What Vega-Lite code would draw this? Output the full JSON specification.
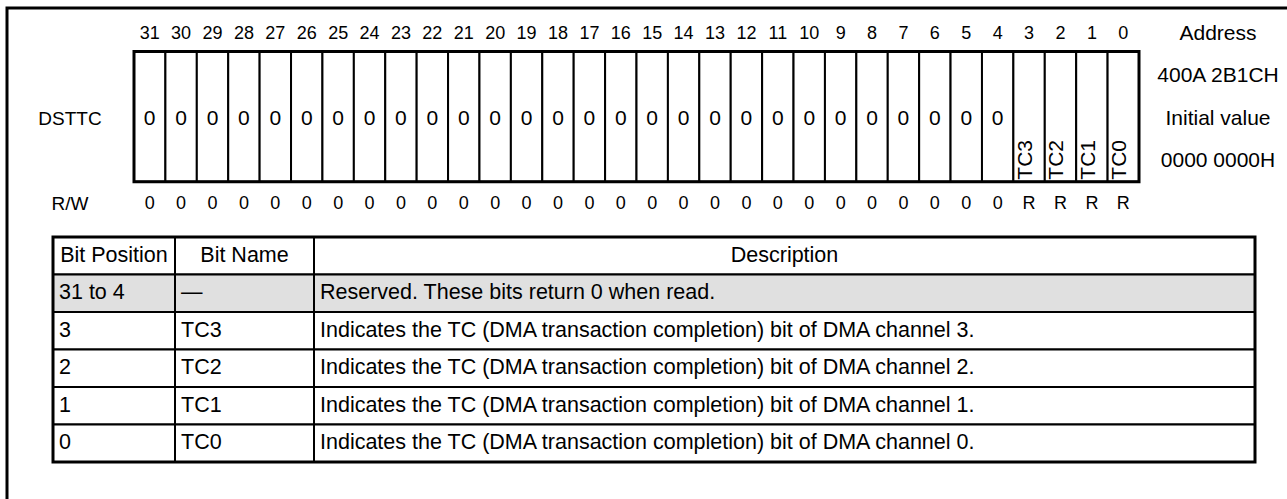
{
  "$schema": "https://vega.github.io/schema/vega-lite/v6.json",
  "width": 1300,
  "height": 510,
  "autosize": {"type": "none"},
  "padding": {"left": 7, "top": 8, "right": -20, "bottom": -19},
  "background": "white",
  "config": {
    "view": {"stroke": "black", "strokeWidth": 3, "fill": "white"},
    "axis": {"disable": true},
    "legend": {"disable": true},
    "text": {"font": "Liberation Sans", "fontSize": 21, "color": "black"}
  },
  "datasets": {
    "bits": [
      {"register": "DSTTC", "bit": 31, "value": "0", "name": "", "access": "0"},
      {"register": "DSTTC", "bit": 30, "value": "0", "name": "", "access": "0"},
      {"register": "DSTTC", "bit": 29, "value": "0", "name": "", "access": "0"},
      {"register": "DSTTC", "bit": 28, "value": "0", "name": "", "access": "0"},
      {"register": "DSTTC", "bit": 27, "value": "0", "name": "", "access": "0"},
      {"register": "DSTTC", "bit": 26, "value": "0", "name": "", "access": "0"},
      {"register": "DSTTC", "bit": 25, "value": "0", "name": "", "access": "0"},
      {"register": "DSTTC", "bit": 24, "value": "0", "name": "", "access": "0"},
      {"register": "DSTTC", "bit": 23, "value": "0", "name": "", "access": "0"},
      {"register": "DSTTC", "bit": 22, "value": "0", "name": "", "access": "0"},
      {"register": "DSTTC", "bit": 21, "value": "0", "name": "", "access": "0"},
      {"register": "DSTTC", "bit": 20, "value": "0", "name": "", "access": "0"},
      {"register": "DSTTC", "bit": 19, "value": "0", "name": "", "access": "0"},
      {"register": "DSTTC", "bit": 18, "value": "0", "name": "", "access": "0"},
      {"register": "DSTTC", "bit": 17, "value": "0", "name": "", "access": "0"},
      {"register": "DSTTC", "bit": 16, "value": "0", "name": "", "access": "0"},
      {"register": "DSTTC", "bit": 15, "value": "0", "name": "", "access": "0"},
      {"register": "DSTTC", "bit": 14, "value": "0", "name": "", "access": "0"},
      {"register": "DSTTC", "bit": 13, "value": "0", "name": "", "access": "0"},
      {"register": "DSTTC", "bit": 12, "value": "0", "name": "", "access": "0"},
      {"register": "DSTTC", "bit": 11, "value": "0", "name": "", "access": "0"},
      {"register": "DSTTC", "bit": 10, "value": "0", "name": "", "access": "0"},
      {"register": "DSTTC", "bit": 9, "value": "0", "name": "", "access": "0"},
      {"register": "DSTTC", "bit": 8, "value": "0", "name": "", "access": "0"},
      {"register": "DSTTC", "bit": 7, "value": "0", "name": "", "access": "0"},
      {"register": "DSTTC", "bit": 6, "value": "0", "name": "", "access": "0"},
      {"register": "DSTTC", "bit": 5, "value": "0", "name": "", "access": "0"},
      {"register": "DSTTC", "bit": 4, "value": "0", "name": "", "access": "0"},
      {"register": "DSTTC", "bit": 3, "value": "", "name": "TC3", "access": "R"},
      {"register": "DSTTC", "bit": 2, "value": "", "name": "TC2", "access": "R"},
      {"register": "DSTTC", "bit": 1, "value": "", "name": "TC1", "access": "R"},
      {"register": "DSTTC", "bit": 0, "value": "", "name": "TC0", "access": "R"}
    ],
    "registers": [
      {"register": "DSTTC", "address": "400A 2B1CH", "initial": "0000 0000H"}
    ],
    "leftLabels": [
      {"side": "left", "row": "register", "text": "DSTTC"},
      {"side": "left", "row": "access", "text": "R/W"}
    ],
    "rightLabels": [
      {"side": "right", "row": "bit numbers", "text": "Address"},
      {"side": "right", "row": "address", "text": "400A 2B1CH"},
      {"side": "right", "row": "register", "text": "Initial value"},
      {"side": "right", "row": "initial value", "text": "0000 0000H"}
    ],
    "table": [
      {"position": "Bit Position", "name": "Bit Name", "description": "Description", "header": true, "reserved": false},
      {"position": "31 to 4", "name": "—", "description": "Reserved. These bits return 0 when read.", "header": false, "reserved": true},
      {"position": "3", "name": "TC3", "description": "Indicates the TC (DMA transaction completion) bit of DMA channel 3.", "header": false, "reserved": false},
      {"position": "2", "name": "TC2", "description": "Indicates the TC (DMA transaction completion) bit of DMA channel 2.", "header": false, "reserved": false},
      {"position": "1", "name": "TC1", "description": "Indicates the TC (DMA transaction completion) bit of DMA channel 1.", "header": false, "reserved": false},
      {"position": "0", "name": "TC0", "description": "Indicates the TC (DMA transaction completion) bit of DMA channel 0.", "header": false, "reserved": false}
    ]
  },
  "resolve": {"scale": {"x": "independent", "y": "independent"}},
  "layer": [
    {
      "data": {"name": "bits"},
      "mark": {"type": "rect", "fill": "white", "stroke": "black", "strokeWidth": 2},
      "encoding": {
        "x": {"field": "bit", "type": "ordinal", "scale": {"type": "band", "domain": [31,30,29,28,27,26,25,24,23,22,21,20,19,18,17,16,15,14,13,12,11,10,9,8,7,6,5,4,3,2,1,0], "range": [127, 1132], "paddingInner": 0, "paddingOuter": 0}},
        "y": {"field": "register", "type": "nominal", "scale": {"type": "band", "domain": ["DSTTC"], "range": [43.5, 173.7], "paddingInner": 0, "paddingOuter": 0}}
      }
    },
    {
      "data": {"name": "registers"},
      "mark": {"type": "rect", "fill": null, "fillOpacity": 0, "stroke": "black", "strokeWidth": 3},
      "encoding": {
        "x": {"field": "register", "type": "nominal", "scale": {"type": "band", "domain": ["DSTTC"], "range": [127, 1132], "paddingInner": 0, "paddingOuter": 0}},
        "y": {"field": "register", "type": "nominal", "scale": {"type": "band", "domain": ["DSTTC"], "range": [43.5, 173.7], "paddingInner": 0, "paddingOuter": 0}}
      }
    },
    {
      "data": {"name": "bits"},
      "mark": {"type": "text", "fontSize": 21, "align": "center", "baseline": "middle"},
      "encoding": {
        "x": {"field": "bit", "type": "ordinal", "scale": {"type": "band", "domain": [31,30,29,28,27,26,25,24,23,22,21,20,19,18,17,16,15,14,13,12,11,10,9,8,7,6,5,4,3,2,1,0], "range": [127, 1132], "paddingInner": 0, "paddingOuter": 0}},
        "y": {"datum": "register", "type": "nominal", "scale": {"type": "point", "domain": ["bit numbers", "address", "register", "initial value", "access"], "range": [25.5, 196], "padding": 0}},
        "text": {"field": "value"}
      }
    },
    {
      "data": {"name": "bits"},
      "mark": {"type": "text", "fontSize": 21, "angle": 270, "align": "left", "baseline": "middle", "dx": 2, "dy": -3},
      "encoding": {
        "x": {"field": "bit", "type": "ordinal", "scale": {"type": "band", "domain": [31,30,29,28,27,26,25,24,23,22,21,20,19,18,17,16,15,14,13,12,11,10,9,8,7,6,5,4,3,2,1,0], "range": [127, 1132], "paddingInner": 0, "paddingOuter": 0}},
        "y": {"field": "register", "type": "nominal", "bandPosition": 1, "scale": {"type": "band", "domain": ["DSTTC"], "range": [43.5, 173.7], "paddingInner": 0, "paddingOuter": 0}},
        "text": {"field": "name"}
      }
    },
    {
      "data": {"name": "bits"},
      "mark": {"type": "text", "fontSize": 18, "align": "center", "baseline": "middle"},
      "encoding": {
        "x": {"field": "bit", "type": "ordinal", "scale": {"type": "band", "domain": [31,30,29,28,27,26,25,24,23,22,21,20,19,18,17,16,15,14,13,12,11,10,9,8,7,6,5,4,3,2,1,0], "range": [127, 1132], "paddingInner": 0, "paddingOuter": 0}},
        "y": {"datum": "bit numbers", "type": "nominal", "scale": {"type": "point", "domain": ["bit numbers", "address", "register", "initial value", "access"], "range": [25.5, 196], "padding": 0}},
        "text": {"field": "bit"}
      }
    },
    {
      "data": {"name": "bits"},
      "mark": {"type": "text", "fontSize": 18, "align": "center", "baseline": "middle"},
      "encoding": {
        "x": {"field": "bit", "type": "ordinal", "scale": {"type": "band", "domain": [31,30,29,28,27,26,25,24,23,22,21,20,19,18,17,16,15,14,13,12,11,10,9,8,7,6,5,4,3,2,1,0], "range": [127, 1132], "paddingInner": 0, "paddingOuter": 0}},
        "y": {"datum": "access", "type": "nominal", "scale": {"type": "point", "domain": ["bit numbers", "address", "register", "initial value", "access"], "range": [25.5, 196], "padding": 0}},
        "text": {"field": "access"}
      }
    },
    {
      "data": {"name": "leftLabels"},
      "mark": {"type": "text", "fontSize": 19, "align": "center", "baseline": "middle"},
      "encoding": {
        "x": {"field": "side", "type": "nominal", "scale": {"type": "point", "domain": ["left", "right"], "range": [63, 1211], "padding": 0}},
        "y": {"field": "row", "type": "nominal", "scale": {"type": "point", "domain": ["bit numbers", "address", "register", "initial value", "access"], "range": [25.5, 196], "padding": 0}},
        "text": {"field": "text"}
      }
    },
    {
      "data": {"name": "rightLabels"},
      "mark": {"type": "text", "fontSize": 21, "align": "center", "baseline": "middle"},
      "encoding": {
        "x": {"field": "side", "type": "nominal", "scale": {"type": "point", "domain": ["left", "right"], "range": [63, 1211], "padding": 0}},
        "y": {"field": "row", "type": "nominal", "scale": {"type": "point", "domain": ["bit numbers", "address", "register", "initial value", "access"], "range": [25.5, 196], "padding": 0}},
        "text": {"field": "text"}
      }
    },
    {
      "data": {"name": "table"},
      "mark": {"type": "rect", "stroke": "black", "strokeWidth": 2},
      "encoding": {
        "x": {"datum": "Bit Position", "type": "nominal", "scale": {"type": "band", "domain": ["Bit Position"], "range": [46, 168], "paddingInner": 0, "paddingOuter": 0}},
        "y": {"field": "position", "type": "nominal", "scale": {"type": "band", "domain": ["Bit Position", "31 to 4", "3", "2", "1", "0"], "range": [229, 454], "paddingInner": 0, "paddingOuter": 0}},
        "fill": {"condition": {"test": "datum.reserved", "value": "#e0e0e0"}, "value": "white"}
      }
    },
    {
      "data": {"name": "table"},
      "mark": {"type": "rect", "stroke": "black", "strokeWidth": 2},
      "encoding": {
        "x": {"datum": "Bit Name", "type": "nominal", "scale": {"type": "band", "domain": ["Bit Name"], "range": [168, 307], "paddingInner": 0, "paddingOuter": 0}},
        "y": {"field": "position", "type": "nominal", "scale": {"type": "band", "domain": ["Bit Position", "31 to 4", "3", "2", "1", "0"], "range": [229, 454], "paddingInner": 0, "paddingOuter": 0}},
        "fill": {"condition": {"test": "datum.reserved", "value": "#e0e0e0"}, "value": "white"}
      }
    },
    {
      "data": {"name": "table"},
      "mark": {"type": "rect", "stroke": "black", "strokeWidth": 2},
      "encoding": {
        "x": {"datum": "Description", "type": "nominal", "scale": {"type": "band", "domain": ["Description"], "range": [307, 1248], "paddingInner": 0, "paddingOuter": 0}},
        "y": {"field": "position", "type": "nominal", "scale": {"type": "band", "domain": ["Bit Position", "31 to 4", "3", "2", "1", "0"], "range": [229, 454], "paddingInner": 0, "paddingOuter": 0}},
        "fill": {"condition": {"test": "datum.reserved", "value": "#e0e0e0"}, "value": "white"}
      }
    },
    {
      "data": {"name": "registers"},
      "mark": {"type": "rect", "fill": null, "fillOpacity": 0, "stroke": "black", "strokeWidth": 3},
      "encoding": {
        "x": {"datum": "table", "type": "nominal", "scale": {"type": "band", "domain": ["table"], "range": [46, 1248], "paddingInner": 0, "paddingOuter": 0}},
        "y": {"datum": "table", "type": "nominal", "scale": {"type": "band", "domain": ["table"], "range": [229, 454], "paddingInner": 0, "paddingOuter": 0}}
      }
    },
    {
      "data": {"name": "table"},
      "transform": [{"filter": "datum.header"}],
      "mark": {"type": "text", "fontSize": 21.5, "align": "center", "baseline": "middle"},
      "encoding": {
        "x": {"datum": "Bit Position", "type": "nominal", "scale": {"type": "band", "domain": ["Bit Position"], "range": [46, 168], "paddingInner": 0, "paddingOuter": 0}},
        "y": {"field": "position", "type": "nominal", "scale": {"type": "band", "domain": ["Bit Position", "31 to 4", "3", "2", "1", "0"], "range": [229, 454], "paddingInner": 0, "paddingOuter": 0}},
        "text": {"field": "position"}
      }
    },
    {
      "data": {"name": "table"},
      "transform": [{"filter": "datum.header"}],
      "mark": {"type": "text", "fontSize": 21.5, "align": "center", "baseline": "middle"},
      "encoding": {
        "x": {"datum": "Bit Name", "type": "nominal", "scale": {"type": "band", "domain": ["Bit Name"], "range": [168, 307], "paddingInner": 0, "paddingOuter": 0}},
        "y": {"field": "position", "type": "nominal", "scale": {"type": "band", "domain": ["Bit Position", "31 to 4", "3", "2", "1", "0"], "range": [229, 454], "paddingInner": 0, "paddingOuter": 0}},
        "text": {"field": "name"}
      }
    },
    {
      "data": {"name": "table"},
      "transform": [{"filter": "datum.header"}],
      "mark": {"type": "text", "fontSize": 21.5, "align": "center", "baseline": "middle"},
      "encoding": {
        "x": {"datum": "Description", "type": "nominal", "scale": {"type": "band", "domain": ["Description"], "range": [307, 1248], "paddingInner": 0, "paddingOuter": 0}},
        "y": {"field": "position", "type": "nominal", "scale": {"type": "band", "domain": ["Bit Position", "31 to 4", "3", "2", "1", "0"], "range": [229, 454], "paddingInner": 0, "paddingOuter": 0}},
        "text": {"field": "description"}
      }
    },
    {
      "data": {"name": "table"},
      "transform": [{"filter": "!datum.header"}],
      "mark": {"type": "text", "fontSize": 21.5, "align": "left", "baseline": "middle", "dx": 6},
      "encoding": {
        "x": {"datum": "Bit Position", "type": "nominal", "bandPosition": 0, "scale": {"type": "band", "domain": ["Bit Position"], "range": [46, 168], "paddingInner": 0, "paddingOuter": 0}},
        "y": {"field": "position", "type": "nominal", "scale": {"type": "band", "domain": ["Bit Position", "31 to 4", "3", "2", "1", "0"], "range": [229, 454], "paddingInner": 0, "paddingOuter": 0}},
        "text": {"field": "position"}
      }
    },
    {
      "data": {"name": "table"},
      "transform": [{"filter": "!datum.header"}],
      "mark": {"type": "text", "fontSize": 21.5, "align": "left", "baseline": "middle", "dx": 6},
      "encoding": {
        "x": {"datum": "Bit Name", "type": "nominal", "bandPosition": 0, "scale": {"type": "band", "domain": ["Bit Name"], "range": [168, 307], "paddingInner": 0, "paddingOuter": 0}},
        "y": {"field": "position", "type": "nominal", "scale": {"type": "band", "domain": ["Bit Position", "31 to 4", "3", "2", "1", "0"], "range": [229, 454], "paddingInner": 0, "paddingOuter": 0}},
        "text": {"field": "name"}
      }
    },
    {
      "data": {"name": "table"},
      "transform": [{"filter": "!datum.header"}],
      "mark": {"type": "text", "fontSize": 21.5, "align": "left", "baseline": "middle", "dx": 6},
      "encoding": {
        "x": {"datum": "Description", "type": "nominal", "bandPosition": 0, "scale": {"type": "band", "domain": ["Description"], "range": [307, 1248], "paddingInner": 0, "paddingOuter": 0}},
        "y": {"field": "position", "type": "nominal", "scale": {"type": "band", "domain": ["Bit Position", "31 to 4", "3", "2", "1", "0"], "range": [229, 454], "paddingInner": 0, "paddingOuter": 0}},
        "text": {"field": "description"}
      }
    }
  ]
}
